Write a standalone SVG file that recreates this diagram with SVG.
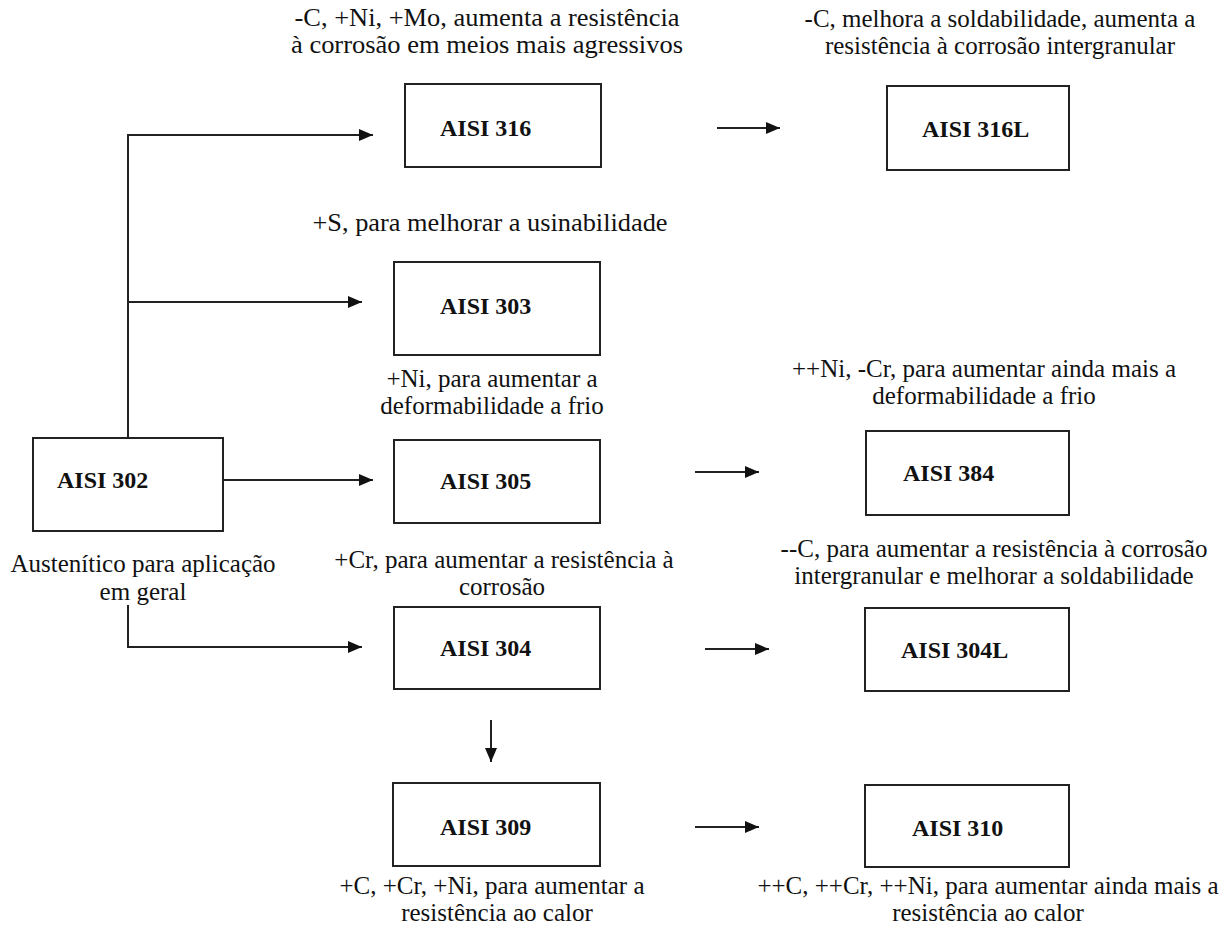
<svg xmlns="http://www.w3.org/2000/svg" width="1230" height="933" viewBox="0 0 1230 933">
<style>
.box{fill:#fff;stroke:#222;stroke-width:2}
.lbl{font-family:"Liberation Serif","Times New Roman",serif;font-size:24px;font-weight:bold;fill:#111}
.t{font-family:"Liberation Serif","Times New Roman",serif;font-size:25px;fill:#111;text-anchor:middle}
.ln{fill:none;stroke:#222;stroke-width:2}
</style>
<defs>
<marker id="ah" markerUnits="userSpaceOnUse" markerWidth="14" markerHeight="12" refX="14" refY="6" orient="auto">
<path d="M0,0 L14,6 L0,12 z" fill="#111"/>
</marker>
</defs>
<rect width="1230" height="933" fill="#fff"/>

<g id="connectors">
<path class="ln" d="M128,438 V135 H373" marker-end="url(#ah)"/>
<path class="ln" d="M128,302 H362" marker-end="url(#ah)"/>
<path class="ln" d="M223,480 H373" marker-end="url(#ah)"/>
<path class="ln" d="M128,605 V647 H362" marker-end="url(#ah)"/>
<path class="ln" d="M717,128 H780" marker-end="url(#ah)"/>
<path class="ln" d="M695,472 H759" marker-end="url(#ah)"/>
<path class="ln" d="M705,649 H769" marker-end="url(#ah)"/>
<path class="ln" d="M695,827 H759" marker-end="url(#ah)"/>
<path class="ln" d="M491,720 V762" marker-end="url(#ah)"/>
</g>

<g id="note-316">
<text class="t" x="487" y="26" textLength="385" lengthAdjust="spacingAndGlyphs">-C, +Ni, +Mo, aumenta a resistência</text>
<text class="t" x="487" y="53" textLength="392" lengthAdjust="spacingAndGlyphs">à corrosão em meios mais agressivos</text>
</g>
<g id="note-316L">
<text class="t" x="1000" y="27">-C, melhora a soldabilidade, aumenta a</text>
<text class="t" x="1000" y="54">resistência à corrosão intergranular</text>
</g>

<g id="node-316">
<rect class="box" x="405" y="84" width="196" height="83"/>
<text class="lbl" x="440" y="136">AISI 316</text>
</g>
<g id="node-316L">
<rect class="box" x="887" y="86" width="182" height="84"/>
<text class="lbl" x="922" y="137">AISI 316L</text>
</g>

<g id="note-303">
<text class="t" x="490" y="231" textLength="355" lengthAdjust="spacingAndGlyphs">+S, para melhorar a usinabilidade</text>
</g>
<g id="node-303">
<rect class="box" x="394" y="262" width="206" height="93"/>
<text class="lbl" x="440" y="314">AISI 303</text>
</g>

<g id="note-305">
<text class="t" x="492" y="387">+Ni, para aumentar a</text>
<text class="t" x="492" y="414">deformabilidade a frio</text>
</g>
<g id="note-384">
<text class="t" x="984" y="377">++Ni, -Cr, para aumentar ainda mais a</text>
<text class="t" x="984" y="404">deformabilidade a frio</text>
</g>

<g id="node-302">
<rect class="box" x="33" y="438" width="190" height="93"/>
<text class="lbl" x="57" y="488">AISI 302</text>
<text class="t" x="143" y="572">Austenítico para aplicação</text>
<text class="t" x="143" y="600">em geral</text>
</g>
<g id="node-305">
<rect class="box" x="394" y="440" width="206" height="83"/>
<text class="lbl" x="440" y="489">AISI 305</text>
</g>
<g id="node-384">
<rect class="box" x="866" y="431" width="203" height="84"/>
<text class="lbl" x="903" y="481">AISI 384</text>
</g>

<g id="note-304">
<text class="t" x="504" y="568">+Cr, para aumentar a resistência à</text>
<text class="t" x="502" y="595">corrosão</text>
</g>
<g id="note-304L">
<text class="t" x="994" y="557">--C, para aumentar a resistência à corrosão</text>
<text class="t" x="994" y="584">intergranular e melhorar a soldabilidade</text>
</g>

<g id="node-304">
<rect class="box" x="394" y="607" width="206" height="82"/>
<text class="lbl" x="440" y="656">AISI 304</text>
</g>
<g id="node-304L">
<rect class="box" x="865" y="608" width="204" height="83"/>
<text class="lbl" x="901" y="658">AISI 304L</text>
</g>

<g id="node-309">
<rect class="box" x="393" y="783" width="207" height="83"/>
<text class="lbl" x="440" y="835">AISI 309</text>
<text class="t" x="492" y="894">+C, +Cr, +Ni, para aumentar a</text>
<text class="t" x="497" y="921">resistência ao calor</text>
</g>
<g id="node-310">
<rect class="box" x="865" y="785" width="204" height="82"/>
<text class="lbl" x="912" y="836">AISI 310</text>
<text class="t" x="988" y="894">++C, ++Cr, ++Ni, para aumentar ainda mais a</text>
<text class="t" x="988" y="921">resistência ao calor</text>
</g>
</svg>
